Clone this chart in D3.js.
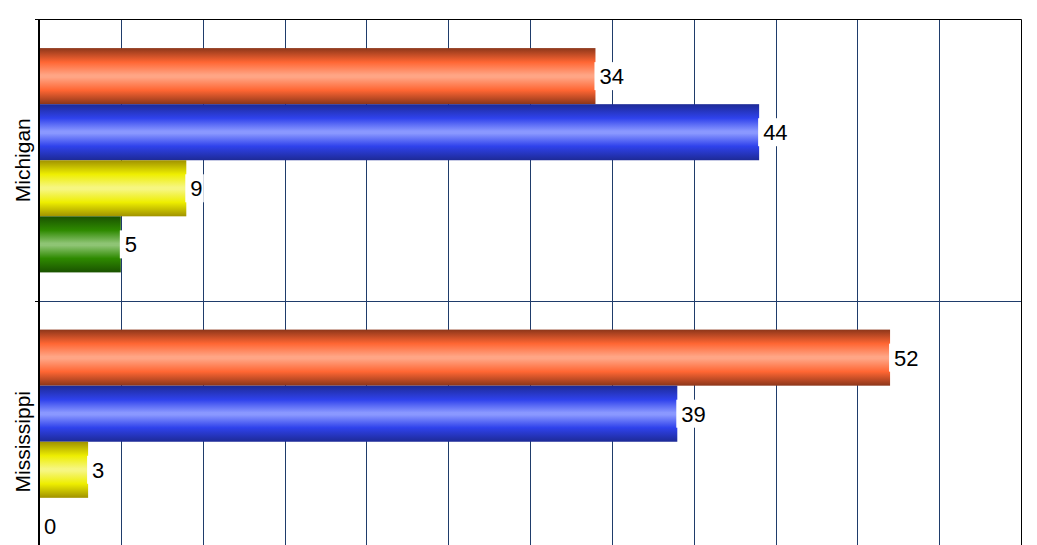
<!DOCTYPE html>
<html>
<head>
<meta charset="utf-8">
<script src="https://cdn.jsdelivr.net/npm/d3@7"></script>
<style>
  body { margin: 0; background: #fff; }
  text { font-family: "Liberation Sans", Arial, sans-serif; }
</style>
</head>
<body>
<div id="chart"></div>
<script>
/* horizontal grouped bars, two states, four series */

const categories = ["Michigan", "Mississippi"];
const seriesNames = ["Series 1", "Series 2", "Series 3", "Series 4"];
const seriesValues = [
    [34, 52],
    [44, 39],
    [9, 3],
    [5, 0]
];
const xTicks = [0, 5, 10, 15, 20, 25, 30, 35, 40, 45, 50, 55, 60];

// dark edge, main, highlight for each series
const palette = [
    ["#8c361a", "#ff6633", "#ffa585"],
    ["#1d2a96", "#2f42ec", "#8a98ff"],
    ["#a09200", "#eeee00", "#f6f680"],
    ["#1a5200", "#2e8a00", "#8ec474"]
];

const height = 545,
      width = 1037,
      margin = ({top: 19.5, right: 16, bottom: -37.5, left: 39});

let svg = d3.select("#chart")
    .append("svg")
    .attr("width", width)
    .attr("height", height);

let defs = svg.append("defs");
palette.forEach((c, i) => {
    let g = defs.append("linearGradient")
        .attr("id", "grad" + i)
        .attr("x1", 0).attr("y1", 0).attr("x2", 0).attr("y2", 1);
    [[0, c[0]], [0.25, c[1]], [0.48, c[2]], [0.52, c[2]], [0.75, c[1]], [1, c[0]]]
        .forEach(s => g.append("stop").attr("offset", s[0]).attr("stop-color", s[1]));
});

let x = d3.scaleLinear()
    .domain([0, 60])
    .range([margin.left, width - margin.right]);

let y = d3.scaleBand()
    .domain(categories)
    .range([margin.top, height - margin.bottom]);

let inner = d3.scaleBand()
    .domain(d3.range(seriesNames.length))
    .range([0, y.bandwidth()])
    .paddingOuter(0.51);

// vertical grid lines
svg.append("g")
    .selectAll("line")
    .data(xTicks.slice(1, -1))
    .join("line")
    .attr("x1", d => Math.round(x(d)) + 0.5)
    .attr("x2", d => Math.round(x(d)) + 0.5)
    .attr("y1", margin.top)
    .attr("y2", height)
    .attr("stroke", "#1f3c6b")
    .attr("stroke-width", 1);

// category dividers
svg.append("g")
    .selectAll("line")
    .data(categories.slice(1))
    .join("line")
    .attr("x1", margin.left)
    .attr("x2", x(60))
    .attr("y1", d => Math.round(y(d)) + 0.5)
    .attr("y2", d => Math.round(y(d)) + 0.5)
    .attr("stroke", "#1f3c6b");

// frame: top and right
svg.append("line")
    .attr("x1", margin.left - 4).attr("x2", x(60) + 0.5)
    .attr("y1", margin.top).attr("y2", margin.top)
    .attr("stroke", "#000");
svg.append("line")
    .attr("x1", Math.round(x(60)) + 0.5).attr("x2", Math.round(x(60)) + 0.5)
    .attr("y1", margin.top).attr("y2", height)
    .attr("stroke", "#000");

let rows = [];
categories.forEach((c, ci) => {
    seriesNames.forEach((s, si) => {
        rows.push({cat: c, s: si, v: seriesValues[si][ci]});
    });
});

let bar = svg.selectAll(".bar")
    .data(rows)
    .join("g")
    .attr("class", "bar")
    .attr("transform", d => `translate(0, ${y(d.cat) + inner(d.s)})`);

bar.append("rect")
    .attr("x", x(0))
    .attr("y", 0)
    .attr("width", d => x(d.v) - x(0))
    .attr("height", inner.bandwidth())
    .attr("fill", d => `url(#grad${d.s})`);

bar.append("rect")
    .attr("x", d => x(d.v) - 1)
    .attr("y", inner.bandwidth() / 2 - 14)
    .attr("width", d => String(d.v).length * 12.5 + 6)
    .attr("height", 28)
    .attr("fill", "#fff")
    .attr("display", d => d.v === 0 ? "none" : null);

bar.append("text")
    .text(d => d.v)
    .attr("x", d => x(d.v) + (d.v === 0 ? 5 : 4))
    .attr("y", inner.bandwidth() / 2 + 8)
    .attr("font-size", 22)
    .attr("fill", "#000");

// y axis with category labels
let yAxis = svg.append("g")
    .attr("transform", `translate(${margin.left}, 0)`);

yAxis.append("line")
    .attr("x1", 0).attr("x2", 0)
    .attr("y1", margin.top - 0.5).attr("y2", height)
    .attr("stroke", "#000")
    .attr("stroke-width", 2);

yAxis.selectAll(".tick")
    .data(categories.slice(1))
    .join("line")
    .attr("x1", -4).attr("x2", 0)
    .attr("y1", d => Math.round(y(d)) + 0.5)
    .attr("y2", d => Math.round(y(d)) + 0.5)
    .attr("stroke", "#000");

yAxis.selectAll("text")
    .data(categories)
    .join("text")
    .text(d => d)
    .attr("transform", d => `translate(-9, ${y(d) + y.bandwidth() / 2}) rotate(-90)`)
    .attr("text-anchor", "middle")
    .attr("font-size", 21)
    .attr("fill", "#000");
</script>
</body>
</html>
